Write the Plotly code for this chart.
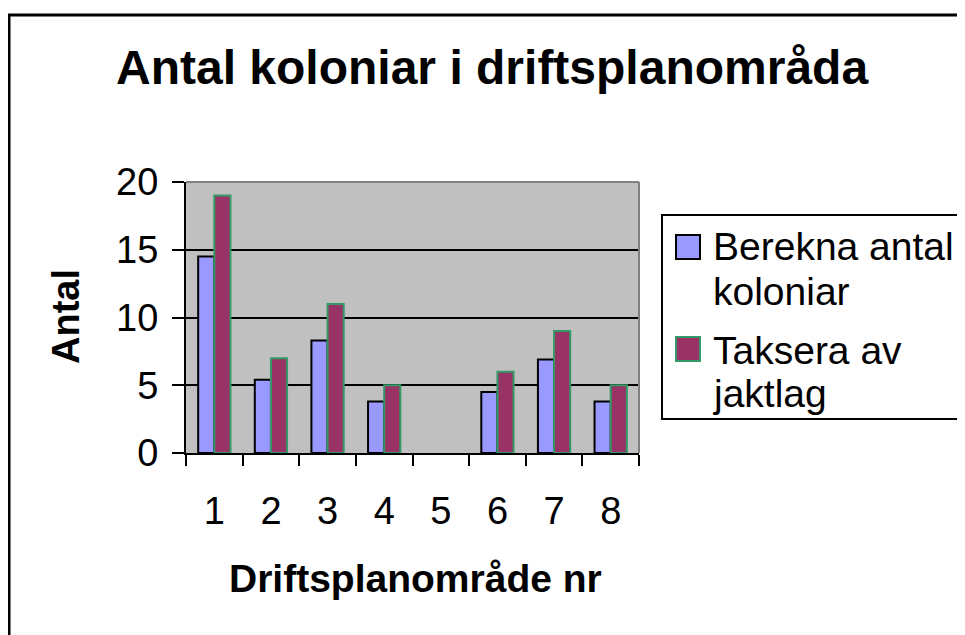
import plotly.graph_objects as go

# data
areas = ["1", "2", "3", "4", "5", "6", "7", "8"]
berekna = [14.5, 5.4, 8.3, 3.8, None, 4.5, 6.9, 3.8]
taksera = [19.0, 7.0, 11.0, 5.0, None, 6.0, 9.0, 5.0]
series_names = ["Berekna antal koloniar", "Taksera av jaktlag"]
title_text = "Antal koloniar i driftsplanområda"
x_title = "Driftsplanområde nr"
y_title = "Antal"

FONT = "Liberation Sans, Arial, sans-serif"
OFF = 8                      # default body margin of the html page
W, H = 965 - OFF, 635 - OFF
PL, PR, PT, PB = 186, 639, 182, 453   # plot area, page pixels


def px(x):
    return (x - PL) / (PR - PL)


def py(y):
    return (PB - y) / (PB - PT)


fig = go.Figure()
fig.add_trace(go.Bar(x=areas, y=berekna, name=series_names[0],
                     marker=dict(color="#9999FF", line=dict(color="black", width=2)),
                     showlegend=False))
fig.add_trace(go.Bar(x=areas, y=taksera, name=series_names[1],
                     marker=dict(color="#993366", line=dict(color="#339966", width=2)),
                     showlegend=False))

shapes = [
    # outer chart frame
    dict(type="rect", xref="paper", yref="paper", x0=px(9), x1=px(1100),
         y0=py(800), y1=py(15), line=dict(color="black", width=3)),
    # plot area border (top/right grey)
    dict(type="line", xref="paper", yref="paper", x0=0, x1=1, y0=1, y1=1,
         line=dict(color="#808080", width=2), layer="above"),
    dict(type="line", xref="paper", yref="paper", x0=1, x1=1, y0=0, y1=1,
         line=dict(color="#808080", width=2), layer="above"),
    # legend box
    dict(type="rect", xref="paper", yref="paper", x0=px(662), x1=px(962),
         y0=py(419), y1=py(215), line=dict(color="black", width=2),
         fillcolor="white"),
    # legend swatches
    dict(type="rect", xref="paper", yref="paper", x0=px(676), x1=px(700),
         y0=py(259), y1=py(235), line=dict(color="black", width=2),
         fillcolor="#9999FF"),
    dict(type="rect", xref="paper", yref="paper", x0=px(676), x1=px(700),
         y0=py(361), y1=py(337), line=dict(color="#339966", width=2),
         fillcolor="#993366"),
]

ann = [
    dict(text="<b>" + title_text + "</b>", x=px(492), y=py(68),
         font=dict(size=48)),
    dict(text="<b>" + x_title + "</b>", x=px(415), y=py(578),
         font=dict(size=39)),
    dict(text="<b>" + y_title + "</b>", x=px(66), y=py(316),
         font=dict(size=38), textangle=-90),
]
legend_lines = [("Berekna antal", 246), ("koloniar", 291),
                ("Taksera av", 350), ("jaktlag", 393)]
for t, yy in legend_lines:
    ann.append(dict(text=t, x=px(711), y=py(yy), xanchor="left",
                    font=dict(size=39)))
for a in ann:
    a.setdefault("xanchor", "center")
    a.update(xref="paper", yref="paper", yanchor="middle", showarrow=False)
    a["font"].update(family=FONT, color="black")

fig.update_layout(
    width=W, height=H,
    margin=dict(l=PL - OFF, r=965 - PR, t=PT - OFF, b=635 - PB,
                autoexpand=False),
    paper_bgcolor="white",
    plot_bgcolor="#C0C0C0",
    bargap=0.43, bargroupgap=0,
    barmode="group",
    font=dict(family=FONT, size=38, color="black"),
    shapes=shapes,
    annotations=ann,
    showlegend=False,
)
fig.update_xaxes(type="category", showline=True, linecolor="black", linewidth=2,
                 ticks="outside", tickson="boundaries", ticklen=11, tickwidth=2,
                 tickcolor="black", showgrid=False, ticklabelstandoff=23,
                 tickfont=dict(size=38))
fig.update_yaxes(range=[0, 20], dtick=5, showline=True, linecolor="black",
                 linewidth=2, ticks="outside", ticklen=12, tickwidth=2,
                 tickcolor="black", showgrid=True, gridcolor="black",
                 gridwidth=2, zeroline=False, ticklabelstandoff=6,
                 tickfont=dict(size=38))

fig.write_html("out.html")
